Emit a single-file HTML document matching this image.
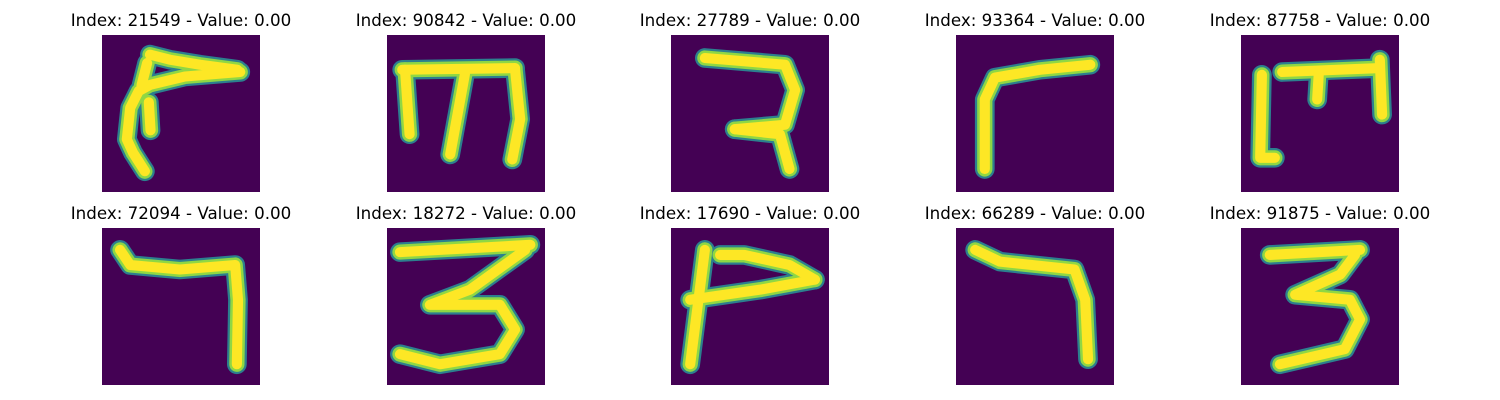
<!DOCTYPE html>
<html><head><meta charset="utf-8">
<style>
body{margin:0;background:#fff;width:1500px;height:400px;overflow:hidden}
#root{position:relative;width:1500px;height:400px}
.ttl{position:absolute;font-family:"DejaVu Sans","Liberation Sans",sans-serif;font-size:16.7px;color:#000;text-align:center;width:280px;white-space:nowrap}
svg.img{position:absolute;width:158px;height:157px}
</style></head><body>
<div id="root"></div>
<script>
const indices=[21549,90842,27789,93364,87758,72094,18272,17690,66289,91875];
const values=[0,0,0,0,0,0,0,0,0,0];
const strokes=[
 [[[7.6,24.3],[5.5,21],[4.4,18.6],[5,13],[6.5,10],[8.5,8.9],[14.7,7.4],[24.5,6.6]],[[8.5,3.5],[12,4.4],[17.4,5.3],[24,6.2]],[[8,5],[7,9]],[[8.3,12],[8.6,17]]],
 [[[2.7,6.2],[22.7,5.9]],[[3.2,6.2],[4,17.7]],[[13.8,7],[11.2,21.3]],[[22.7,6.2],[23.6,15],[22.2,22.2]]],
 [[[6,4.1],[20.2,5.3],[22,9.8],[20.2,16],[11.3,16.8]],[[11.3,16.8],[19.3,17.7],[21,23.9]]],
 [[[5.1,23.9],[5.1,11.5],[6.9,7.6],[14.9,6.2],[23.8,5.3]]],
 [[[3.7,7.1],[3.4,21.9],[6,21.9]],[[7.3,6.6],[24.6,5.9]],[[13.8,6.6],[13.5,11.5]],[[24.6,4.4],[25,14.2]]],
 [[[3.2,3.9],[5,6.6],[13.8,7.4],[23.6,6.6],[24.1,12.8],[23.9,24.3]]],
 [[[2.3,4.3],[25.4,3]],[[24.5,3.9],[14.7,11],[7.6,13.7],[20,13.7],[22.7,18.1],[20,22.5],[9.4,24.3],[2.3,22.5]]],
 [[[6,3.9],[3.4,24.3]],[[3.4,12.8],[15.8,11],[25.5,9.2]],[[8.7,4.8],[13,4.8],[21,6.6],[25.5,9.2]]],
 [[[3.4,3.9],[7.8,6],[21,7.4],[22.9,12.8],[23.4,23.4]]],
 [[[5.1,4.8],[21.1,3.9]],[[20.2,4.8],[17.6,8.3],[9.6,11.9],[19.3,12.8],[21.1,16.3],[18.4,21.6],[6.9,24.3]]]
];
const colX=[102,387,671,956,1241], rowY=[35,228];
const root=document.getElementById('root');
const NS='http://www.w3.org/2000/svg';
indices.forEach((idx,i)=>{
  const c=i%5,r=Math.floor(i/5);
  const t=document.createElement('div');
  t.className='ttl';
  
  
  t.style.left=(colX[c]+79-140)+'px';t.style.top=(rowY[r]-25)+'px';
  t.textContent='Index: '+idx+' - Value: '+values[i].toFixed(2);
  root.appendChild(t);
  const s=document.createElementNS(NS,'svg');
  s.setAttribute('class','img');
  
  
  s.setAttribute('viewBox','0 0 28 28');s.setAttribute('preserveAspectRatio','none');
  s.style.left=colX[c]+'px';s.style.top=rowY[r]+'px';
  const bg=document.createElementNS(NS,'rect');
  bg.setAttribute('width',28);bg.setAttribute('height',28);bg.setAttribute('fill','#440154');
  s.appendChild(bg);
  [['#2c7f8e',3.5],['#8fd744',2.7],['#fde725',1.8]].forEach(([col,w])=>{
    strokes[i].forEach(pts=>{
      const p=document.createElementNS(NS,'polyline');
      
      
      p.setAttribute('points',pts.map(q=>q[0]+','+q[1]).join(' '));
      p.setAttribute('fill','none');p.setAttribute('stroke',col);p.setAttribute('stroke-width',w);
      p.setAttribute('stroke-linecap','round');p.setAttribute('stroke-linejoin','round');
      s.appendChild(p);
    });
  });
  root.appendChild(s);
});
</script>
</body></html>
